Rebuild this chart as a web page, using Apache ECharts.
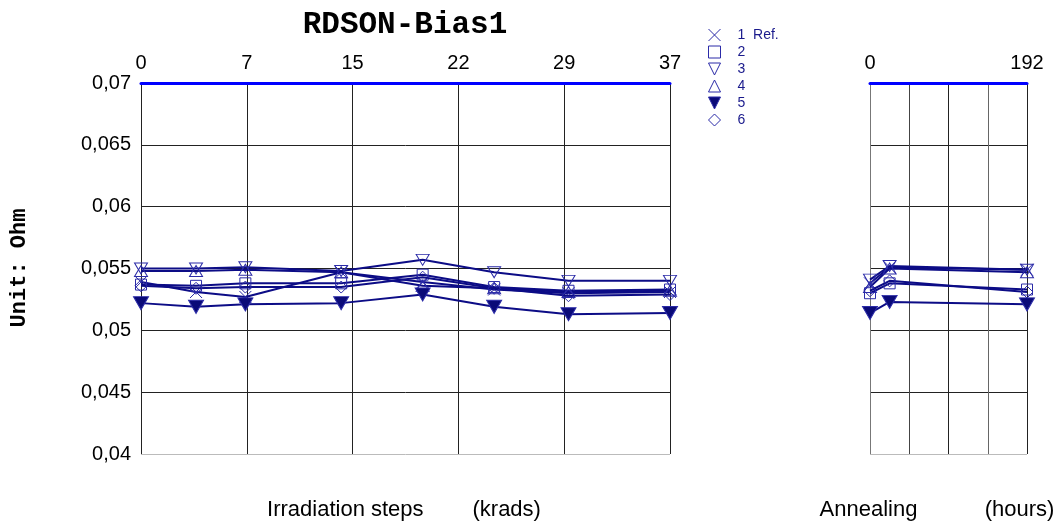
<!DOCTYPE html>
<html>
<head>
<meta charset="utf-8">
<script src="https://cdn.jsdelivr.net/npm/echarts@6/dist/echarts.min.js"></script>
<style>html,body{margin:0;padding:0;background:#fff}#c{width:1062px;height:523px}</style>
</head>
<body>
<div id="c"></div>
<script>
// ---- data ----
const seriesNames = ['1  Ref.', '2', '3', '4', '5', '6'];
const irrSteps = [0, 3.85, 7.3, 14, 19.7, 24.7, 29.9, 37];          // krads
const annSteps = [0, 24, 192];                                      // hours
const irrTickLabels = ['0', '7', '15', '22', '29', '37'];
const annTickLabels = ['0', '', '', '', '192'];
const yTickMin = 0.04, yTickMax = 0.07, yTickStep = 0.005;

const irr1 = [0.0539, 0.0531, 0.0527, 0.0547, 0.0539, 0.0533, 0.0530, 0.0531];
const irr2 = [0.0537, 0.0536, 0.0538, 0.0538, 0.0545, 0.0535, 0.0532, 0.0533];
const irr3 = [0.0550, 0.0550, 0.0551, 0.0548, 0.0557, 0.0547, 0.0540, 0.0540];
const irr4 = [0.0548, 0.0548, 0.0549, 0.0547, 0.0536, 0.0534, 0.0531, 0.0532];
const irr5 = [0.0522, 0.0519, 0.0521, 0.0522, 0.0529, 0.0519, 0.0513, 0.0514];
const irr6 = [0.0536, 0.0534, 0.0535, 0.0535, 0.0543, 0.0534, 0.0528, 0.0529];

const ann1 = [0.0538, 0.0551, 0.0549];
const ann2 = [0.0530, 0.0538, 0.0533];
const ann3 = [0.0541, 0.0552, 0.0549];
const ann4 = [0.0535, 0.0550, 0.0547];
const ann5 = [0.0514, 0.0523, 0.0521];
const ann6 = [0.0532, 0.0540, 0.0531];

// ---- styling ----
const lineColor = '#0c0c86';
const markColor = '#2b2ba8';
const symbols = [
  {symbol: 'path://M0,0 L10,10 M10,0 L0,10', size: [12, 12], fill: 'transparent'},
  {symbol: 'rect', size: [11, 11], fill: 'transparent'},
  {symbol: 'path://M0,0 L10,0 L5,10 Z', size: [13, 11], fill: 'transparent'},
  {symbol: 'path://M5,0 L10,10 L0,10 Z', size: [13, 11], fill: 'transparent'},
  {symbol: 'path://M0,0 L10,0 L5,10 Z', size: [15, 13], fill: '#0a0a78'},
  {symbol: 'path://M5,0 L10,5 L5,10 L0,5 Z', size: [12, 12], fill: 'transparent'}
];
const irrData = [irr1, irr2, irr3, irr4, irr5, irr6];
const annData = [ann1, ann2, ann3, ann4, ann5, ann6];

function mkSeries(i, xs, ys, axisIdx) {
  const s = symbols[i];
  return {
    name: seriesNames[i], type: 'line',
    xAxisIndex: axisIdx, yAxisIndex: axisIdx,
    data: xs.map((x, k) => [x, ys[k]]),
    symbol: s.symbol, symbolSize: s.size, showAllSymbol: true,
    lineStyle: {color: lineColor, width: 2},
    itemStyle: {color: s.fill, borderColor: markColor, borderWidth: 1},
    emphasis: {disabled: true}, animation: false, z: 3 + i
  };
}
const series = [];
for (let i = 0; i < 6; i++) {
  series.push(mkSeries(i, irrSteps, irrData[i], 0));
  series.push(mkSeries(i, annSteps, annData[i], 1));
}

const yLabel = v => {
  const m = Math.round(v * 1000);
  return (m % 10 === 0 ? (m / 1000).toFixed(2) : (m / 1000).toFixed(3)).replace('.', ',');
};
const yGridColors = ['#bbbbbb', '#222', '#222', '#222', '#222', '#222', '#222'];
const font = 'Arial, "Liberation Sans", sans-serif';
const mono = '"Liberation Mono", "Courier New", monospace';

const option = {
  backgroundColor: '#fff',
  animation: false,
  grid: [
    {left: 141, top: 83, width: 529, height: 371},
    {left: 870, top: 83, width: 157, height: 371}
  ],
  xAxis: [
    {gridIndex: 0, type: 'value', position: 'top', min: 0, max: 37, interval: 7.4,
     axisLine: {show: true, lineStyle: {color: '#0000ff', width: 3}}, axisTick: {show: false},
     axisLabel: {fontSize: 20, color: '#000', fontFamily: font, margin: 10,
                 formatter: v => irrTickLabels[Math.round(v / 7.4)]},
     splitLine: {show: true, lineStyle: {color: '#222', width: 1}}},
    {gridIndex: 1, type: 'value', position: 'top', min: 0, max: 192, interval: 48,
     axisLine: {show: true, lineStyle: {color: '#0000ff', width: 3}}, axisTick: {show: false},
     axisLabel: {fontSize: 20, color: '#000', fontFamily: font, margin: 10,
                 formatter: v => annTickLabels[Math.round(v / 48)]},
     splitLine: {show: true, lineStyle: {color: ['#777', '#444', '#222', '#666', '#222'], width: 1}}}
  ],
  yAxis: [
    {gridIndex: 0, type: 'value', min: yTickMin, max: yTickMax, interval: yTickStep,
     axisLine: {show: false}, axisTick: {show: false},
     axisLabel: {fontSize: 20, color: '#000', fontFamily: font, margin: 10, formatter: yLabel},
     splitLine: {show: true, lineStyle: {color: yGridColors, width: 1}}},
    {gridIndex: 1, type: 'value', min: yTickMin, max: yTickMax, interval: yTickStep,
     axisLine: {show: false}, axisTick: {show: false}, axisLabel: {show: false},
     splitLine: {show: true, lineStyle: {color: yGridColors, width: 1}}}
  ],
  legend: {
    orient: 'vertical', left: 708, top: 28, padding: 0,
    itemWidth: 12, itemHeight: 12, itemGap: 3,
    selectedMode: false,
    textStyle: {color: '#1a1a8c', fontSize: 14, fontFamily: font, padding: [0, 0, 0, 12]},
    data: seriesNames.map((n, i) => ({
      name: n, icon: symbols[i].symbol,
      itemStyle: {color: symbols[i].fill, borderColor: markColor, borderWidth: 1}
    }))
  },
  graphic: [
    {type: 'text', x: 405, y: 25, silent: true,
     style: {text: 'RDSON-Bias1', font: 'bold 31px ' + mono,
             fill: '#000', align: 'center', verticalAlign: 'middle'}},
    {type: 'text', x: 19, y: 268, rotation: Math.PI / 2, silent: true,
     style: {text: 'Unit: Ohm', font: 'bold 22px ' + mono,
             fill: '#000', align: 'center', verticalAlign: 'middle'}},
    {type: 'text', x: 404, y: 510, silent: true,
     style: {text: 'Irradiation steps        (krads)', font: '22px ' + font,
             fill: '#000', align: 'center', verticalAlign: 'middle'}},
    {type: 'text', x: 937, y: 510, silent: true,
     style: {text: 'Annealing           (hours)', font: '22px ' + font,
             fill: '#000', align: 'center', verticalAlign: 'middle'}}
  ],
  series: series
};
const chart = echarts.init(document.getElementById('c'));
chart.setOption(option);
</script>
</body>
</html>
